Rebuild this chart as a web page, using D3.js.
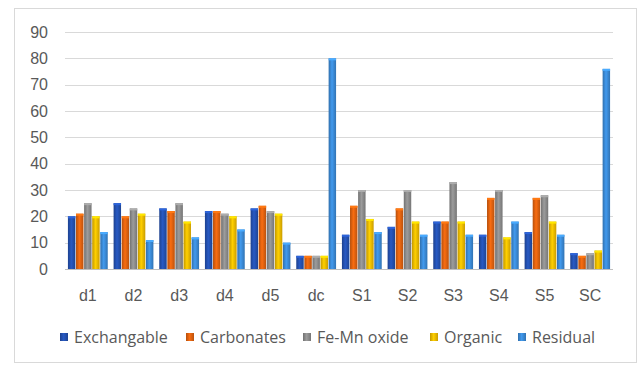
<!DOCTYPE html>
<html><head><meta charset="utf-8">
<script src="https://cdn.jsdelivr.net/npm/d3@7"></script>
<style>body{margin:0;background:#fff;}svg{display:block;font-family:"Open Sans","Liberation Sans",sans-serif;}</style>
</head><body><svg id="c" width="642" height="365"></svg>
<script>
const categories = ["d1","d2","d3","d4","d5","dc","S1","S2","S3","S4","S5","SC"];
const seriesNames = ["Exchangable","Carbonates","Fe-Mn oxide","Organic","Residual"];
const exchangable = [20,25,23,22,23,5,13,16,18,13,14,6];
const carbonates  = [21,20,22,22,24,5,24,23,18,27,27,5];
const feMnOxide   = [25,23,25,21,22,5,30,30,33,30,28,6];
const organic     = [20,21,18,20,21,5,19,18,18,12,18,7];
const residual    = [14,11,12,15,10,80,14,13,13,18,13,76];
const yTicks = [0,10,20,30,40,50,60,70,80,90];
const colors = ["#2451b0","#e0620f","#8c8c8c","#f0bb00","#3b8ad6"];

const seriesValues = [exchangable,carbonates,feMnOxide,organic,residual];
const svg = d3.select("#c");
svg.append("rect").attr("x",14.5).attr("y",8.5).attr("width",622).attr("height",354)
  .attr("fill","#fff").attr("stroke","#d9d9d9");

const defs = svg.append("defs");
colors.forEach((c,i)=>{
  const g = defs.append("linearGradient").attr("id","g"+i).attr("x1","0").attr("x2","1").attr("y1","0").attr("y2","0");
  const col = d3.color(c);
  g.append("stop").attr("offset","0%").attr("stop-color",col.darker(0.6));
  g.append("stop").attr("offset","45%").attr("stop-color",col.brighter(0.3));
  g.append("stop").attr("offset","100%").attr("stop-color",col.darker(0.5));
});

const x0 = d3.scaleBand().domain(categories).range([65,613]).paddingInner(0.1).paddingOuter(0.05);
const x1 = d3.scaleBand().domain(seriesNames).range([0,x0.bandwidth()]).padding(0.08);
const y = d3.scaleLinear().domain([0,90]).range([269,32]);

const grid = svg.append("g");
grid.selectAll("line").data(yTicks).join("line")
  .attr("x1",65).attr("x2",613).attr("y1",d=>Math.round(y(d))+0.5).attr("y2",d=>Math.round(y(d))+0.5)
  .attr("stroke",d=>d===0?"#bfbfbf":"#d9d9d9").attr("stroke-width",1);

const yAxis = d3.axisLeft(y).tickValues(yTicks).tickSize(0).tickPadding(10);
const ya = svg.append("g").attr("transform","translate(58,0)").call(yAxis);
ya.select(".domain").remove();
ya.selectAll("text").attr("fill","#595959").style("font-size","16px");

const xAxis = d3.axisBottom(x0).tickSize(0).tickPadding(0);
const xa = svg.append("g").attr("transform","translate(0,295)").call(xAxis);
xa.select(".domain").remove();
xa.selectAll("text").attr("y",0).attr("dy","0.35em").attr("fill","#595959").style("font-size","16px");

const groups = svg.append("g").selectAll("g").data(categories).join("g")
  .attr("transform",d=>`translate(${x0(d)},0)`);
groups.each(function(cat,ci){
  const g = d3.select(this);
  seriesNames.forEach((s,si)=>{
    const v = seriesValues[si][ci];
    g.append("rect").attr("x",x1(s)).attr("y",y(v)).attr("width",x1.bandwidth()).attr("height",y(0)-y(v))
      .attr("fill",`url(#g${si})`);
    g.append("rect").attr("x",x1(s)).attr("y",y(v)).attr("width",x1.bandwidth()).attr("height",2)
      .attr("fill",d3.color(colors[si]).brighter(0.6));
  });
});

// legend
const legend = svg.append("g").attr("transform","translate(0,337)");
const legX = [60,186,303,430,518];
seriesNames.forEach((s,i)=>{
  const lg = legend.append("g").attr("transform",`translate(${legX[i]},0)`);
  lg.append("rect").attr("x",0).attr("y",-4).attr("width",8).attr("height",8).attr("fill",`url(#g${i})`);
  lg.append("text").attr("x",14).attr("y",0).attr("dy","0.35em").attr("fill","#595959")
    .style("font-size","16px").text(s);
});
</script></body></html>
